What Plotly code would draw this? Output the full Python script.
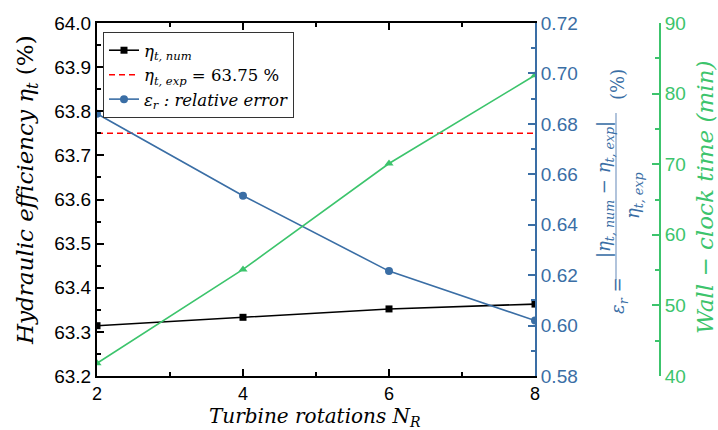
import plotly.graph_objects as go

# ---- data ----
rotations = [2, 4, 6, 8]
eta_num = [63.314, 63.333, 63.352, 63.363]
eta_exp = 63.75
rel_error = [0.684, 0.6515, 0.6216, 0.602]
wall_time = [41.8, 55.1, 70.1, 82.6]

BLUE = "#3a6ea5"
GREEN = "#3cc46c"
SERIF = "DejaVu Serif"
SANS = "Liberation Sans"

W, H = 718, 430
L, R, T, B = 97, 660, 23, 376  # plot pixel box (R = green axis position)


def px(x):
    return (x - L) / (R - L)


def py(y):
    return (B - y) / (B - T)


fig = go.Figure()

fig.add_trace(go.Scatter(
    x=rotations, y=eta_num, mode="lines+markers",
    name="<i>η<sub>t, num</sub></i>",
    line=dict(color="black", width=1.6),
    marker=dict(symbol="square", size=7, color="black"),
    xaxis="x", yaxis="y"))

fig.add_trace(go.Scatter(
    x=[rotations[0], rotations[-1]], y=[eta_exp, eta_exp], mode="lines",
    name="<i>η<sub>t, exp</sub></i> = 63.75 %",
    line=dict(color="red", width=1.6, dash="6px,4px"),
    xaxis="x", yaxis="y"))

fig.add_trace(go.Scatter(
    x=rotations, y=rel_error, mode="lines+markers",
    name="<i>ε<sub>r</sub> : relative error</i>",
    line=dict(color=BLUE, width=1.6),
    marker=dict(symbol="circle", size=8, color=BLUE),
    xaxis="x", yaxis="y2"))

fig.add_trace(go.Scatter(
    x=rotations, y=wall_time, mode="lines+markers",
    name="wall", showlegend=False,
    line=dict(color=GREEN, width=1.6),
    marker=dict(symbol="triangle-up", size=8, color=GREEN),
    xaxis="x", yaxis="y3"))

dom_end = (535 - L) / (R - L)

fig.update_layout(
    width=W, height=H,
    margin=dict(l=L, r=W - R, t=T, b=H - B, pad=0),
    plot_bgcolor="white", paper_bgcolor="white",
    showlegend=True,
    legend=dict(x=px(103), y=py(32), xanchor="left", yanchor="top",
                bgcolor="white", bordercolor="#333", borderwidth=1,
                font=dict(family=SERIF, size=16.5, color="black"),
                tracegroupgap=0),
    xaxis=dict(domain=[0, dom_end], range=[2, 8], dtick=2, tick0=2,
               showgrid=False, zeroline=False, showline=True,
               linecolor="black", linewidth=2, mirror="ticks",
               ticks="inside", ticklen=7, tickwidth=1.5, tickcolor="black",
               minor=dict(ticks="inside", dtick=1, ticklen=4, tickcolor="black"),
               tickfont=dict(family=SANS, size=18, color="black")),
    yaxis=dict(range=[63.2, 64.0], dtick=0.1, tick0=63.2, tickformat=".1f",
               showgrid=False, zeroline=False, showline=True,
               linecolor="black", linewidth=2,
               ticks="inside", ticklen=7, tickwidth=1.5, tickcolor="black",
               minor=dict(ticks="inside", dtick=0.05, ticklen=4, tickcolor="black"),
               tickfont=dict(family=SANS, size=19, color="black")),
    yaxis2=dict(range=[0.58, 0.72], dtick=0.02, tick0=0.58, tickformat=".2f",
                overlaying="y", side="right", anchor="x",
                showgrid=False, zeroline=False, showline=True,
                linecolor=BLUE, linewidth=2,
                ticks="inside", ticklen=7, tickwidth=1.5, tickcolor=BLUE,
                minor=dict(ticks="inside", dtick=0.01, ticklen=4, tickcolor=BLUE),
                tickfont=dict(family=SANS, size=19, color=BLUE)),
    yaxis3=dict(range=[40, 90], dtick=10, tick0=40,
                overlaying="y", side="right", anchor="free", position=1,
                showgrid=False, zeroline=False, showline=True,
                linecolor=GREEN, linewidth=2,
                ticks="inside", ticklen=7, tickwidth=1.5, tickcolor=GREEN,
                minor=dict(ticks="inside", dtick=5, ticklen=4, tickcolor=GREEN),
                tickfont=dict(family=SANS, size=19, color=GREEN)),
)

ann = []
# x title
ann.append(dict(text="<i>Turbine rotations N<sub>R</sub></i>", x=px(315), y=py(417),
                xref="paper", yref="paper", showarrow=False,
                xanchor="center", yanchor="middle",
                font=dict(family=SERIF, size=20, color="black")))
# left title
ann.append(dict(text="<i>Hydraulic efficiency η<sub>t</sub></i> (%)", x=px(27), y=py(190),
                xref="paper", yref="paper", showarrow=False, textangle=-90,
                xanchor="center", yanchor="middle",
                font=dict(family=SERIF, size=23, color="black")))
# blue title pieces
ann.append(dict(text="(%)", x=px(617), y=py(85),
                xref="paper", yref="paper", showarrow=False, textangle=-90,
                xanchor="center", yanchor="middle",
                font=dict(family=SERIF, size=18, color=BLUE)))
ann.append(dict(text="|<i>η<sub>t, num</sub></i> − <i>η<sub>t, exp</sub></i>|", x=px(605), y=py(190),
                xref="paper", yref="paper", showarrow=False, textangle=-90,
                xanchor="center", yanchor="middle",
                font=dict(family=SERIF, size=18, color=BLUE)))
ann.append(dict(text="<i>η<sub>t, exp</sub></i>", x=px(634), y=py(196),
                xref="paper", yref="paper", showarrow=False, textangle=-90,
                xanchor="center", yanchor="middle",
                font=dict(family=SERIF, size=18, color=BLUE)))
ann.append(dict(text="<i>ε<sub>r</sub></i> =", x=px(619), y=py(296),
                xref="paper", yref="paper", showarrow=False, textangle=-90,
                xanchor="center", yanchor="middle",
                font=dict(family=SERIF, size=18, color=BLUE)))
# green title
ann.append(dict(text="<i>Wall − clock time (min)</i>", x=px(705), y=py(198),
                xref="paper", yref="paper", showarrow=False, textangle=-90,
                xanchor="center", yanchor="middle",
                font=dict(family=SERIF, size=23, color=GREEN)))
fig.update_layout(annotations=ann)

fig.add_shape(type="line", xref="paper", yref="paper",
              x0=px(616), x1=px(616), y0=py(113), y1=py(280),
              line=dict(color="#7d9cc4", width=1.2))

fig.write_html("out.html")
